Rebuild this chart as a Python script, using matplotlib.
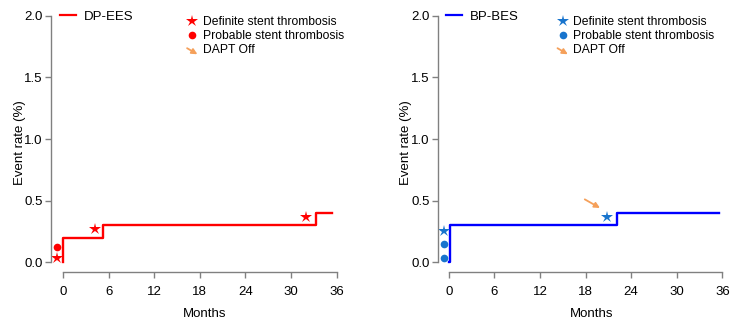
import matplotlib
matplotlib.use("Agg")
import matplotlib.pyplot as plt
from matplotlib.legend_handler import HandlerBase
from matplotlib.patches import FancyArrowPatch
from matplotlib.lines import Line2D

plt.rcParams['font.family'] = ['Liberation Sans', 'DejaVu Sans']

# DP-EES cumulative event curve (step changes)
dp_time = [0, 0, 5.2, 33.3, 35.4]
dp_rate = [0, 0.2, 0.3, 0.4, 0.4]
dp_definite_x = [-0.8, 4.2, 32.0]
dp_definite_y = [0.03, 0.27, 0.37]
dp_probable_x = [-0.8]
dp_probable_y = [0.12]

# BP-BES
bp_time = [0, 0.2, 22.1, 35.6]
bp_rate = [0, 0.3, 0.4, 0.4]
bp_definite_x = [-0.6, 20.8]
bp_definite_y = [0.25, 0.37]
bp_probable_x = [-0.6, -0.6]
bp_probable_y = [0.15, 0.035]
bp_dapt_off = [(17.9, 0.51), (19.9, 0.44)]

x_ticks = [0, 6, 12, 18, 24, 30, 36]
y_ticks = [0.0, 0.5, 1.0, 1.5, 2.0]

ARROW_COL = '#F5A05A'
SPINE_COL = '#808080'


class ArrowHandler(HandlerBase):
    def create_artists(self, legend, orig, xd, yd, w, h, fontsize, trans):
        a = FancyArrowPatch((xd, yd + h * 0.75), (xd + w, yd - h * 0.3),
                            arrowstyle='-|>', mutation_scale=8,
                            color=ARROW_COL, lw=1.3, transform=trans)
        return [a]


def draw_panel(ax, t, r, lcol, mcol, dx, dy, px, py, name, x_left, leg_x, arrow=None):
    ax.plot(t, r, drawstyle='steps-post', color=lcol, lw=1.7)
    ax.plot(dx, dy, ls='none', marker='*', ms=9, color=mcol, mew=0)
    ax.plot(px, py, ls='none', marker='o', ms=5.5, color=mcol, mew=0)
    if arrow:
        ax.annotate('', xy=arrow[1], xytext=arrow[0],
                    arrowprops=dict(arrowstyle='-|>', color=ARROW_COL, lw=1.3,
                                    mutation_scale=8, shrinkA=0, shrinkB=0))

    ax.set_xlim(x_left, 36.5)
    ax.set_ylim(-0.08, 2.02)
    ax.set_xticks(x_ticks)
    ax.set_yticks(y_ticks)
    ax.set_yticklabels([f'{v:.1f}' for v in y_ticks])
    for s in ['top', 'right']:
        ax.spines[s].set_visible(False)
    ax.spines['left'].set_bounds(0, 2)
    ax.spines['bottom'].set_bounds(0, 36)
    for s in ['left', 'bottom']:
        ax.spines[s].set_color(SPINE_COL)
        ax.spines[s].set_linewidth(1.0)
    ax.tick_params(axis='both', colors=SPINE_COL, labelcolor='black',
                   labelsize=9.5, length=4, width=1.0)
    ax.tick_params(axis='x', pad=6)
    ax.tick_params(axis='y', pad=2)
    ax.set_xlabel('Months', fontsize=9.5, labelpad=7)
    ax.xaxis.label.set_x(0.532)
    ax.set_ylabel('Event rate (%)', fontsize=9.5, labelpad=-1)

    leg1 = ax.legend([Line2D([], [], color=lcol, lw=1.6)], [name],
                     loc='upper left', bbox_to_anchor=(0.03, 1.01),
                     frameon=False, fontsize=9.5, handlelength=1.2,
                     handletextpad=0.6, borderpad=0, borderaxespad=0)
    ax.add_artist(leg1)
    h_star = Line2D([], [], ls='none', marker='*', ms=9, color=mcol, mew=0)
    h_dot = Line2D([], [], ls='none', marker='o', ms=5.5, color=mcol, mew=0)
    h_arrow = Line2D([], [])
    ax.legend([h_star, h_dot, h_arrow],
              ['Definite stent thrombosis', 'Probable stent thrombosis', 'DAPT Off'],
              handler_map={h_arrow: ArrowHandler()},
              loc='upper left', bbox_to_anchor=(leg_x, 0.99),
              frameon=False, fontsize=8.7, handlelength=1.25,
              handletextpad=0.25, labelspacing=0.17, borderpad=0, borderaxespad=0)


fig = plt.figure(figsize=(7.32, 3.2), dpi=100)
ax1 = fig.add_axes([0.0697, 0.15, 0.3953, 0.808])
ax2 = fig.add_axes([0.598, 0.15, 0.394, 0.808])

draw_panel(ax1, dp_time, dp_rate, '#FF0000', '#FF0000',
           dp_definite_x, dp_definite_y, dp_probable_x, dp_probable_y,
           'DP-EES', -1.58, 0.462)
draw_panel(ax2, bp_time, bp_rate, '#0000FF', '#1874CD',
           bp_definite_x, bp_definite_y, bp_probable_x, bp_probable_y,
           'BP-BES', -1.45, 0.407, arrow=bp_dapt_off)

fig.savefig('out.png', dpi=100)
